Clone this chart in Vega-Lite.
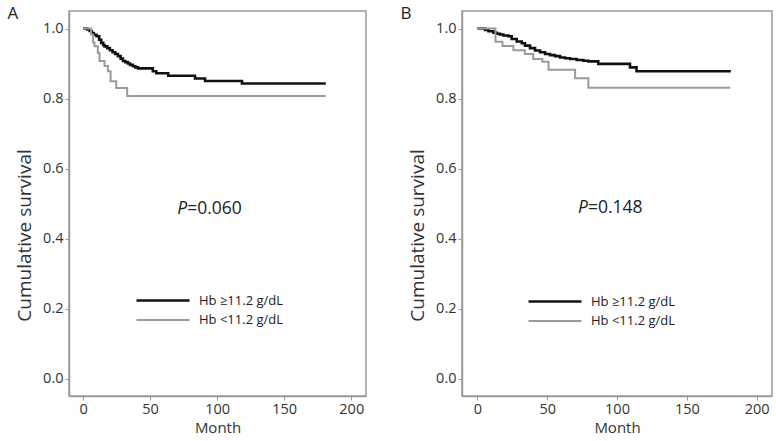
{
  "$schema": "https://vega.github.io/schema/vega-lite/v6.json",
  "background": "white",
  "padding": {"left": 6, "top": 4, "right": 1, "bottom": 2},
  "spacing": 32,
  "resolve": {
    "scale": {"color": "independent", "strokeWidth": "independent"},
    "legend": {"color": "independent", "strokeWidth": "independent"}
  },
  "datasets": {
    "a": [
      {"month": 0, "surv": 1.0, "group": "Hb ≥11.2 g/dL"},
      {"month": 3, "surv": 0.997, "group": "Hb ≥11.2 g/dL"},
      {"month": 5, "surv": 0.993, "group": "Hb ≥11.2 g/dL"},
      {"month": 6.5, "surv": 0.987, "group": "Hb ≥11.2 g/dL"},
      {"month": 8, "surv": 0.982, "group": "Hb ≥11.2 g/dL"},
      {"month": 10, "surv": 0.978, "group": "Hb ≥11.2 g/dL"},
      {"month": 12, "surv": 0.968, "group": "Hb ≥11.2 g/dL"},
      {"month": 13.5, "surv": 0.959, "group": "Hb ≥11.2 g/dL"},
      {"month": 15, "surv": 0.953, "group": "Hb ≥11.2 g/dL"},
      {"month": 16, "surv": 0.949, "group": "Hb ≥11.2 g/dL"},
      {"month": 18, "surv": 0.944, "group": "Hb ≥11.2 g/dL"},
      {"month": 20, "surv": 0.938, "group": "Hb ≥11.2 g/dL"},
      {"month": 22, "surv": 0.932, "group": "Hb ≥11.2 g/dL"},
      {"month": 24, "surv": 0.927, "group": "Hb ≥11.2 g/dL"},
      {"month": 26, "surv": 0.921, "group": "Hb ≥11.2 g/dL"},
      {"month": 28, "surv": 0.914, "group": "Hb ≥11.2 g/dL"},
      {"month": 29.7, "surv": 0.907, "group": "Hb ≥11.2 g/dL"},
      {"month": 31.5, "surv": 0.904, "group": "Hb ≥11.2 g/dL"},
      {"month": 33.4, "surv": 0.9, "group": "Hb ≥11.2 g/dL"},
      {"month": 35, "surv": 0.896, "group": "Hb ≥11.2 g/dL"},
      {"month": 37.2, "surv": 0.892, "group": "Hb ≥11.2 g/dL"},
      {"month": 39, "surv": 0.889, "group": "Hb ≥11.2 g/dL"},
      {"month": 41, "surv": 0.886, "group": "Hb ≥11.2 g/dL"},
      {"month": 52, "surv": 0.878, "group": "Hb ≥11.2 g/dL"},
      {"month": 54.6, "surv": 0.872, "group": "Hb ≥11.2 g/dL"},
      {"month": 63.5, "surv": 0.865, "group": "Hb ≥11.2 g/dL"},
      {"month": 83.5, "surv": 0.857, "group": "Hb ≥11.2 g/dL"},
      {"month": 91, "surv": 0.85, "group": "Hb ≥11.2 g/dL"},
      {"month": 118.5, "surv": 0.843, "group": "Hb ≥11.2 g/dL"},
      {"month": 181, "surv": 0.843, "group": "Hb ≥11.2 g/dL"},
      {"month": 0, "surv": 1.0, "group": "Hb <11.2 g/dL"},
      {"month": 6, "surv": 0.983, "group": "Hb <11.2 g/dL"},
      {"month": 7.5, "surv": 0.96, "group": "Hb <11.2 g/dL"},
      {"month": 8.5, "surv": 0.949, "group": "Hb <11.2 g/dL"},
      {"month": 11, "surv": 0.93, "group": "Hb <11.2 g/dL"},
      {"month": 12.3, "surv": 0.907, "group": "Hb <11.2 g/dL"},
      {"month": 16, "surv": 0.893, "group": "Hb <11.2 g/dL"},
      {"month": 18.5, "surv": 0.878, "group": "Hb <11.2 g/dL"},
      {"month": 20.5, "surv": 0.849, "group": "Hb <11.2 g/dL"},
      {"month": 24.7, "surv": 0.83, "group": "Hb <11.2 g/dL"},
      {"month": 32.9, "surv": 0.807, "group": "Hb <11.2 g/dL"},
      {"month": 181, "surv": 0.807, "group": "Hb <11.2 g/dL"}
    ],
    "b": [
      {"month": 0, "surv": 1.0, "group": "Hb ≥11.2 g/dL"},
      {"month": 5.5, "surv": 0.996, "group": "Hb ≥11.2 g/dL"},
      {"month": 8, "surv": 0.992, "group": "Hb ≥11.2 g/dL"},
      {"month": 11.5, "surv": 0.988, "group": "Hb ≥11.2 g/dL"},
      {"month": 14, "surv": 0.985, "group": "Hb ≥11.2 g/dL"},
      {"month": 16.2, "surv": 0.983, "group": "Hb ≥11.2 g/dL"},
      {"month": 18.6, "surv": 0.98, "group": "Hb ≥11.2 g/dL"},
      {"month": 22.2, "surv": 0.978, "group": "Hb ≥11.2 g/dL"},
      {"month": 24.6, "surv": 0.97, "group": "Hb ≥11.2 g/dL"},
      {"month": 28.2, "surv": 0.963, "group": "Hb ≥11.2 g/dL"},
      {"month": 31.8, "surv": 0.958, "group": "Hb ≥11.2 g/dL"},
      {"month": 34.1, "surv": 0.951, "group": "Hb ≥11.2 g/dL"},
      {"month": 37.7, "surv": 0.944, "group": "Hb ≥11.2 g/dL"},
      {"month": 41.3, "surv": 0.937, "group": "Hb ≥11.2 g/dL"},
      {"month": 44.9, "surv": 0.932, "group": "Hb ≥11.2 g/dL"},
      {"month": 48.5, "surv": 0.927, "group": "Hb ≥11.2 g/dL"},
      {"month": 52, "surv": 0.924, "group": "Hb ≥11.2 g/dL"},
      {"month": 55.6, "surv": 0.921, "group": "Hb ≥11.2 g/dL"},
      {"month": 59.2, "surv": 0.917, "group": "Hb ≥11.2 g/dL"},
      {"month": 62.8, "surv": 0.915, "group": "Hb ≥11.2 g/dL"},
      {"month": 66.4, "surv": 0.913, "group": "Hb ≥11.2 g/dL"},
      {"month": 71.2, "surv": 0.91, "group": "Hb ≥11.2 g/dL"},
      {"month": 75.9, "surv": 0.908, "group": "Hb ≥11.2 g/dL"},
      {"month": 79.5, "surv": 0.906, "group": "Hb ≥11.2 g/dL"},
      {"month": 86.6, "surv": 0.899, "group": "Hb ≥11.2 g/dL"},
      {"month": 109.3, "surv": 0.889, "group": "Hb ≥11.2 g/dL"},
      {"month": 114, "surv": 0.878, "group": "Hb ≥11.2 g/dL"},
      {"month": 181.5, "surv": 0.878, "group": "Hb ≥11.2 g/dL"},
      {"month": 0, "surv": 1.0, "group": "Hb <11.2 g/dL"},
      {"month": 13, "surv": 0.962, "group": "Hb <11.2 g/dL"},
      {"month": 18, "surv": 0.95, "group": "Hb <11.2 g/dL"},
      {"month": 25.8, "surv": 0.938, "group": "Hb <11.2 g/dL"},
      {"month": 34, "surv": 0.927, "group": "Hb <11.2 g/dL"},
      {"month": 40, "surv": 0.913, "group": "Hb <11.2 g/dL"},
      {"month": 46.5, "surv": 0.905, "group": "Hb <11.2 g/dL"},
      {"month": 51, "surv": 0.882, "group": "Hb <11.2 g/dL"},
      {"month": 70, "surv": 0.858, "group": "Hb <11.2 g/dL"},
      {"month": 79.5, "surv": 0.831, "group": "Hb <11.2 g/dL"},
      {"month": 181, "surv": 0.831, "group": "Hb <11.2 g/dL"}
    ]
  },
  "config": {
    "font": "Open Sans",
    "view": {"stroke": "#9a9a9a", "strokeWidth": 1.5},
    "axis": {
      "grid": false,
      "labelFont": "Open Sans",
      "labelFontSize": 14.5,
      "labelColor": "#333333",
      "titleFont": "Open Sans",
      "titleFontWeight": "normal",
      "titleColor": "#333333",
      "domainColor": "#9a9a9a",
      "domainWidth": 1.5,
      "tickColor": "#9a9a9a",
      "tickSize": 4,
      "labelPadding": 2
    },
    "axisX": {"titleFontSize": 15, "titlePadding": 5},
    "axisY": {"titleFontSize": 19, "titlePadding": 8, "titleY": 224},
    "legend": {
      "symbolType": "M-2.65,0H2.65",
      "symbolSize": 400,
      "symbolFillColor": "transparent",
      "labelFont": "Open Sans",
      "labelFontSize": 13,
      "labelColor": "#222222",
      "labelOffset": 24.5,
      "rowPadding": 1
    },
    "title": {
      "font": "Open Sans",
      "fontSize": 17,
      "fontWeight": "normal",
      "color": "#222222",
      "anchor": "start",
      "frame": "bounds",
      "offset": -12,
      "dx": -8
    }
  },
  "hconcat": [
    {
      "width": 297,
      "height": 385,
      "title": {"text": "A"},
      "data": {"name": "a"},
      "layer": [
        {
          "mark": {"type": "line", "interpolate": "step-after"},
          "encoding": {
            "x": {"field": "month", "type": "quantitative", "scale": {"domain": [-10.5, 211], "nice": false, "zero": false}, "axis": {"values": [0, 50, 100, 150, 200], "title": "Month"}},
            "y": {"field": "surv", "type": "quantitative", "scale": {"domain": [-0.05, 1.05], "nice": false, "zero": false}, "axis": {"values": [0, 0.2, 0.4, 0.6, 0.8, 1.0], "format": ".1f", "title": "Cumulative survival"}},
            "color": {"field": "group", "type": "nominal", "scale": {"domain": ["Hb ≥11.2 g/dL", "Hb <11.2 g/dL"], "range": ["#111111", "#9a9a9a"]}, "legend": {"orient": "none", "legendX": 82.5, "legendY": 278, "title": null}},
            "strokeWidth": {"field": "group", "type": "nominal", "scale": {"domain": ["Hb ≥11.2 g/dL", "Hb <11.2 g/dL"], "range": [2.6, 2]}, "legend": {"orient": "none", "legendX": 82.5, "legendY": 278, "title": null}}
          }
        },
        {
          "data": {"values": [{}]},
          "mark": {"type": "text", "text": "P", "fontStyle": "italic", "align": "right", "baseline": "middle", "fontSize": 17.5, "color": "#222222"},
          "encoding": {"x": {"datum": 77.6}, "y": {"datum": 0.484}}
        },
        {
          "data": {"values": [{}]},
          "mark": {"type": "text", "text": "=0.060", "align": "left", "baseline": "middle", "fontSize": 17.5, "color": "#222222"},
          "encoding": {"x": {"datum": 77.6}, "y": {"datum": 0.484}}
        }
      ]
    },
    {
      "width": 310,
      "height": 385,
      "title": {"text": "B"},
      "data": {"name": "b"},
      "layer": [
        {
          "mark": {"type": "line", "interpolate": "step-after"},
          "encoding": {
            "x": {"field": "month", "type": "quantitative", "scale": {"domain": [-11, 211], "nice": false, "zero": false}, "axis": {"values": [0, 50, 100, 150, 200], "title": "Month"}},
            "y": {"field": "surv", "type": "quantitative", "scale": {"domain": [-0.05, 1.05], "nice": false, "zero": false}, "axis": {"values": [0, 0.2, 0.4, 0.6, 0.8, 1.0], "format": ".1f", "title": "Cumulative survival"}},
            "color": {"field": "group", "type": "nominal", "scale": {"domain": ["Hb ≥11.2 g/dL", "Hb <11.2 g/dL"], "range": ["#111111", "#9a9a9a"]}, "legend": {"orient": "none", "legendX": 81.5, "legendY": 279, "title": null}},
            "strokeWidth": {"field": "group", "type": "nominal", "scale": {"domain": ["Hb ≥11.2 g/dL", "Hb <11.2 g/dL"], "range": [2.6, 2]}, "legend": {"orient": "none", "legendX": 81.5, "legendY": 279, "title": null}}
          }
        },
        {
          "data": {"values": [{}]},
          "mark": {"type": "text", "text": "P", "fontStyle": "italic", "align": "right", "baseline": "middle", "fontSize": 17.5, "color": "#222222"},
          "encoding": {"x": {"datum": 79.2}, "y": {"datum": 0.487}}
        },
        {
          "data": {"values": [{}]},
          "mark": {"type": "text", "text": "=0.148", "align": "left", "baseline": "middle", "fontSize": 17.5, "color": "#222222"},
          "encoding": {"x": {"datum": 79.2}, "y": {"datum": 0.487}}
        }
      ]
    }
  ]
}
